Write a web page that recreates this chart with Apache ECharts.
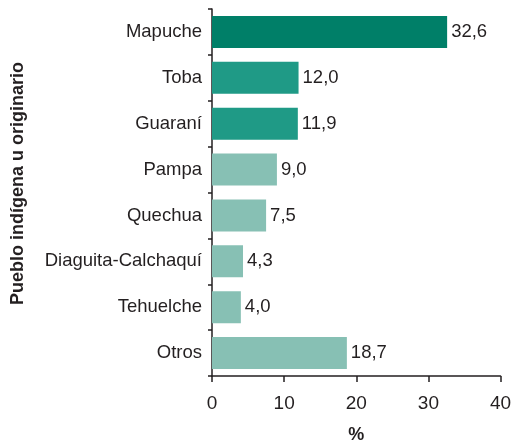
<!DOCTYPE html>
<html><head><meta charset="utf-8">
<script src="https://cdn.jsdelivr.net/npm/echarts@6/dist/echarts.min.js"></script>
<style>html,body{margin:0;padding:0;background:#fff}#c{width:511px;height:442px}</style>
</head><body><div id="c"></div>
<script>
const categories = ['Mapuche','Toba','Guaraní','Pampa','Quechua','Diaguita-Calchaquí','Tehuelche','Otros'];
const values = [32.6, 12.0, 11.9, 9.0, 7.5, 4.3, 4.0, 18.7];
const xTicks = [0, 10, 20, 30, 40];
const barColors = ['#007f68','#1f9a86','#1f9a86','#87c0b4','#87c0b4','#87c0b4','#87c0b4','#87c0b4'];

const txt = '#231f20';
const font = '"Liberation Sans", Arial, sans-serif';
const chart = echarts.init(document.getElementById('c'));
chart.setOption({
  animation: false,
  grid: {left: 212, right: 10.5, top: 9, bottom: 66, containLabel: false, outerBoundsMode: 'none'},
  xAxis: {
    type: 'value', min: xTicks[0], max: xTicks[xTicks.length-1], interval: 10,
    name: '%', nameLocation: 'middle', nameGap: 50,
    nameTextStyle: {fontFamily: font, fontSize: 18, fontWeight: 'bold', color: txt},
    axisLine: {show: true, lineStyle: {color: txt, width: 1.5}},
    axisTick: {show: true, length: 6, lineStyle: {color: txt, width: 1.5}},
    axisLabel: {fontFamily: font, fontSize: 19, color: txt, margin: 18},
    splitLine: {show: false}
  },
  yAxis: {
    type: 'category', data: categories, inverse: true,
    name: 'Pueblo indígena u originario', nameLocation: 'middle', nameGap: 185,
    nameTextStyle: {fontFamily: font, fontSize: 18, fontWeight: 'bold', color: txt, padding: [0,0,0,18]},
    axisLine: {show: true, lineStyle: {color: txt, width: 1.5}},
    axisTick: {show: true, length: 4, lineStyle: {color: txt, width: 1.5}},
    axisLabel: {fontFamily: font, fontSize: 18.5, color: txt, margin: 10}
  },
  series: [{
    type: 'bar',
    data: values.map((v, i) => ({value: v, itemStyle: {color: barColors[i]}})),
    barCategoryGap: '30%',
    label: {
      show: true, position: 'right', distance: 4,
      fontFamily: font, fontSize: 18.5, color: txt,
      formatter: p => p.value.toFixed(1).replace('.', ',')
    }
  }]
});
</script></body></html>
